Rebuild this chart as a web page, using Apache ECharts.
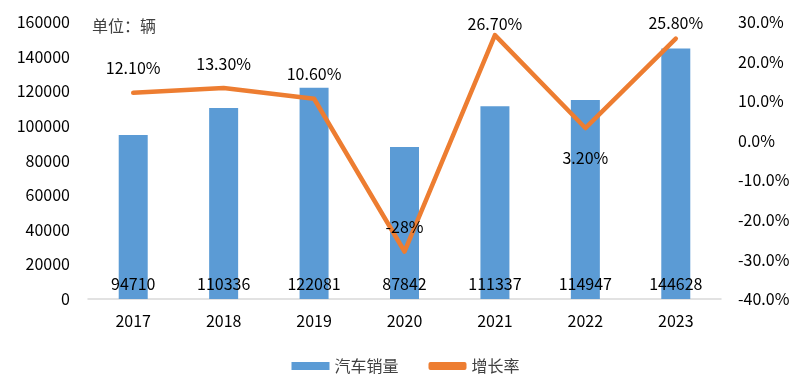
<!DOCTYPE html>
<html><head><meta charset="utf-8">
<script src="https://cdn.jsdelivr.net/npm/echarts@6/dist/echarts.min.js"></script>
<style>html,body{margin:0;padding:0;background:#fff}#c{width:811px;height:387px}</style>
</head><body><div id="c"></div>
<script>
const categories = ['2017','2018','2019','2020','2021','2022','2023'];
const sales = [94710,110336,122081,87842,111337,114947,144628];
const growth = [12.1,13.3,10.6,-28,26.7,3.2,25.8];
const growthLabels = ['12.10%','13.30%','10.60%','-28%','26.70%','3.20%','25.80%'];
const leftTicks = [0,20000,40000,60000,80000,100000,120000,140000,160000];
const rightTicks = [-40,-30,-20,-10,0,10,20,30];

const font = '"Noto Sans CJK SC","Noto Sans",sans-serif';
const fs = 16;
// label placement tweaks per point (style only)
const labelTweaks = {4:{distance:3},5:{position:'bottom',distance:21},6:{distance:7}};
const chart = echarts.init(document.getElementById('c'));
chart.setOption({
  animation:false,
  textStyle:{fontFamily:font},
  grid:{left:88,right:90,top:22,bottom:88},
  graphic:[{type:'text',left:92,top:18,style:{text:'单位：辆',font:'16px '+font,fill:'#404040'}}],
  legend:{bottom:8,left:'center',itemWidth:38,itemHeight:8,itemGap:30,
    textStyle:{fontSize:fs,color:'#404040',fontFamily:font},
    data:[{name:'汽车销量',icon:'rect'},{name:'增长率',icon:'roundRect'}]},
  xAxis:{type:'category',data:categories,
    axisLine:{lineStyle:{color:'#d9d9d9',width:1.5}},axisTick:{show:false},
    axisLabel:{fontSize:fs,color:'#000',margin:14,fontFamily:font}},
  yAxis:[
    {type:'value',min:leftTicks[0],max:leftTicks[leftTicks.length-1],interval:20000,
     splitLine:{show:false},axisLine:{show:false},axisTick:{show:false},
     axisLabel:{fontSize:fs,color:'#000',margin:18,fontFamily:font,formatter:v=>String(v)}},
    {type:'value',min:rightTicks[0],max:rightTicks[rightTicks.length-1],interval:10,
     splitLine:{show:false},axisLine:{show:false},axisTick:{show:false},
     axisLabel:{fontSize:fs,color:'#000',margin:17,fontFamily:font,formatter:v=>v.toFixed(1)+'%'}}
  ],
  series:[
    {name:'汽车销量',type:'bar',data:sales,barWidth:29,itemStyle:{color:'#5B9BD5'},
     label:{show:true,position:'insideBottom',distance:7,fontSize:fs,color:'#000',fontFamily:font}},
    {name:'增长率',type:'line',yAxisIndex:1,
     data:growth.map((v,i)=>labelTweaks[i]?{value:v,label:labelTweaks[i]}:v),
     symbol:'circle',symbolSize:1,showSymbol:true,
     lineStyle:{color:'#ED7D31',width:4.5,cap:'round',join:'round'},itemStyle:{color:'#ED7D31'},
     label:{show:true,position:'top',distance:16,fontSize:fs,color:'#000',fontFamily:font,
       formatter:p=>growthLabels[p.dataIndex]},
     labelLayout:{hideOverlap:false}}
  ]
});
</script></body></html>
